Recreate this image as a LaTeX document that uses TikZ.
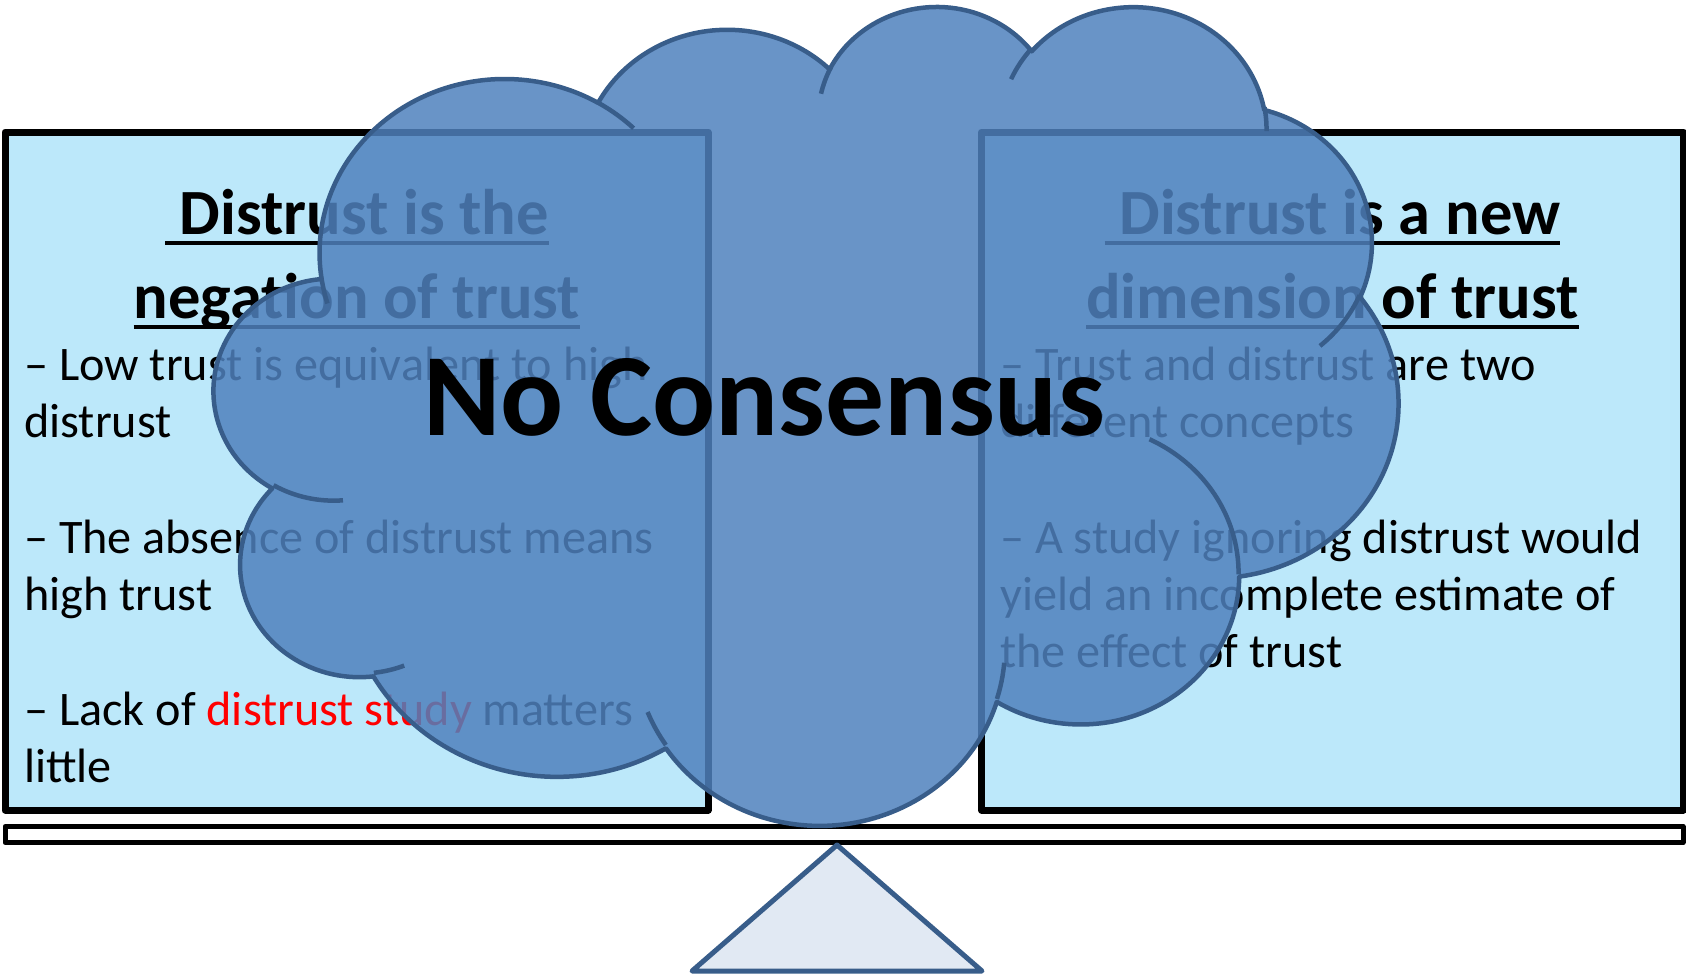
\documentclass[tikz,border=0pt]{standalone}
\usepackage{fontspec}
\setmainfont{Carlito}
\definecolor{panfill}{HTML}{BCE8FA}
\definecolor{cloudfill}{HTML}{4F81BD}
\definecolor{cloudedge}{HTML}{385D8A}
\definecolor{fulcrumfill}{HTML}{E1E9F3}
\definecolor{hotred}{HTML}{FF0000}
% elliptical arc given by its visual start angle and sweep (degrees)
\newcommand\cloudarc[4]{arc[x radius=#1, y radius=#2,
  start angle={cpar(#3,#1,#2)},
  delta angle={mod(cpar(#3+#4,#1,#2)-cpar(#3,#1,#2)+720,360)}]}
\begin{document}
\begin{tikzpicture}[x=1pt,y=-1pt,
  declare function={cpar(\a,\rx,\ry)=atan2(\rx*sin(\a),\ry*cos(\a));},
  pan/.style={draw=black, line width=7pt, line join=round, fill=panfill},
  beam/.style={draw=black, line width=5pt, line join=round, fill=white},
  fulcrum/.style={draw=cloudedge, line width=5pt, line join=round, fill=fulcrumfill},
  head/.style={font=\bfseries\fontsize{64.5}{72}\selectfont, inner sep=0pt, anchor=base},
  body/.style={font=\fontsize{48.2}{58}\selectfont, inner sep=0pt, anchor=base west},
  uline/.style={draw=black, line width=4pt},
  cloudbody/.style={fill=cloudfill, fill opacity=0.85, draw=cloudedge, line width=4.5pt, line join=round},
  cloudline/.style={draw=cloudedge, line width=4.5pt},
  title/.style={font=\bfseries\fontsize{117.5}{130}\selectfont, inner sep=0pt, anchor=base}]
\useasboundingbox (0,0) rectangle (1686,975);

% the two pans, the beam and the fulcrum
\path[pan] (5,132) rectangle (708,810);
\path[pan] (981.5,132) rectangle (1683,810);
\path[beam] (5,826.5) rectangle (1683,842.5);
\coordinate (apex) at (837,845);
\coordinate (baseL) at (692,971);
\coordinate (baseR) at (982,971);
\path[fulcrum] (apex) -- (baseR) -- (baseL) -- cycle;

% left pan
\node[head] (lh1) at (357,234) {\ Distrust is the};
\node[head] (lh2) at (357,318.5) {negation of trust};
\draw[uline] ([yshift=-8.5pt]lh1.base west) -- ([yshift=-8.5pt]lh1.base east);
\draw[uline] ([yshift=-8.5pt]lh2.base west) -- ([yshift=-8.5pt]lh2.base east);
\node[body] (l1) at (24,380.5) {– Low trust is equivalent to high};
\node[body] (l2) at (24,437.5) {distrust};
\node[body] (l3) at (24,553.5) {– The absence of distrust means};
\node[body] (l4) at (24,610.5) {high trust};
\node[body] (l5) at (24,725.5) {– Lack of \textcolor{hotred}{distrust study} matters};
\node[body] (l6) at (24,782.5) {little};

% right pan
\node[head] (rh1) at (1332.5,234) {\ Distrust is a new};
\node[head] (rh2) at (1332.5,318.5) {dimension of trust};
\draw[uline] ([yshift=-8.5pt]rh1.base west) -- ([yshift=-8.5pt]rh1.base east);
\draw[uline] ([yshift=-8.5pt]rh2.base west) -- ([yshift=-8.5pt]rh2.base east);
\node[body] (r1) at (1000,380.5) {– Trust and distrust are two};
\node[body] (r2) at (1000,437.5) {different concepts};
\node[body] (r3) at (1000,553.5) {– A study ignoring distrust would};
\node[body] (r4) at (1000,610.5) {yield an incomplete estimate of};
\node[body] (r5) at (1000,667.5) {the effect of trust};

% the cloud, on a 4320 x 4320 grid
\begin{scope}[shift={(214.4,4.3)}, x=0.27398pt, y=-0.18949pt]
\path[cloudbody] (390,1437)
  \cloudarc{675.3}{919.0}{-190.48748}{123.78053}
  \cloudarc{533.3}{726.7}{-144.10238}{89.94523}
  \cloudarc{436.5}{594.5}{-145.80792}{99.72302}
  \cloudarc{485.7}{659.5}{-130.98607}{117.24173}
  \cloudarc{533.3}{727.3}{-78.70888}{109.02692}
  \cloudarc{677.5}{922.0}{-46.26725}{130.269}
  \cloudarc{578.5}{786.7}{0.62502}{114.03333}
  \cloudarc{675.2}{921.5}{22.4516}{115.17255}
  \cloudarc{772.0}{1054.3}{66.24263}{75.71102}
  \cloudarc{436.0}{591.8}{-274.94208}{146.73557}
  \cloudarc{434.5}{594.5}{-246.8285}{152.51885}
  -- cycle;
\draw[cloudline]
  (469.3,2617.7) \cloudarc{434.5}{594.5}{86.742}{26.4295}
  (692.8,3489.9) \cloudarc{436.0}{591.8}{73.61047}{11.44747}
  (1647.8,3909.0) \cloudarc{675.2}{921.5}{137.62415}{14.0811}
  (2882.7,3475.1) \cloudarc{675.2}{921.5}{6.45327}{15.99835}
  (3412.9,2295.4) \cloudarc{578.5}{786.7}{-70.29235}{70.91737}
  (4179.8,1535.4) \cloudarc{533.3}{727.3}{30.31803}{27.7515}
  (3832.4,542.6) \cloudarc{485.7}{659.5}{-13.74433}{14.8589}
  (2907.8,395.2) \cloudarc{485.7}{659.5}{-149.18145}{18.19537}
  (2214.1,472.0) \cloudarc{436.5}{594.5}{-163.49427}{17.68635}
  (1400.0,519.2) \cloudarc{675.3}{919.0}{-66.70695}{12.31935}
  (412.7,1578.9) \cloudarc{675.3}{919.0}{157.65435}{11.85817};
\end{scope}

\node[title] (verdict) at (764,435) {No Consensus};
\end{tikzpicture}
\end{document}
